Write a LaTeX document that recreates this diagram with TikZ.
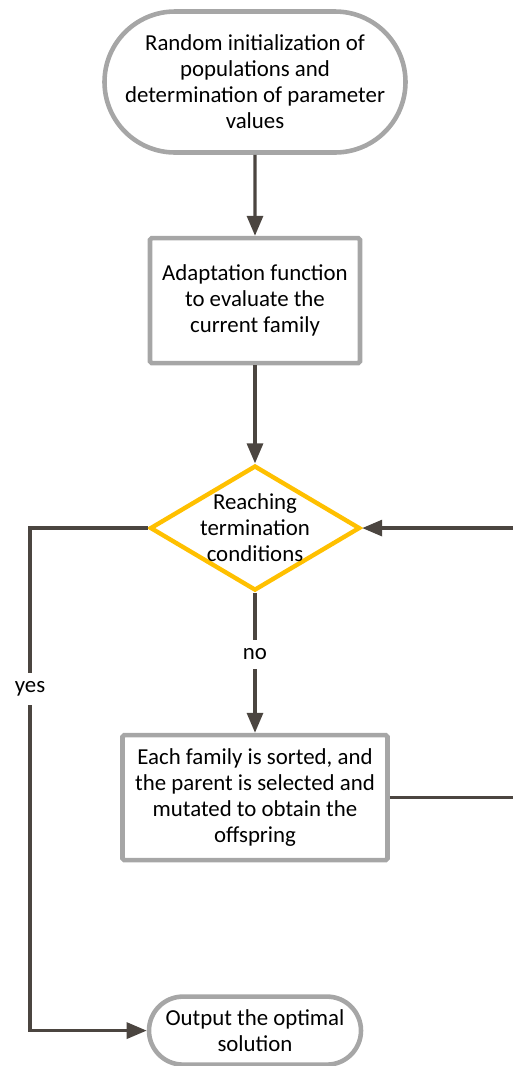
\documentclass[tikz,border=0pt]{standalone}
\usepackage{fontspec}
\setmainfont{Carlito}
\usetikzlibrary{arrows.meta,positioning,shapes.geometric,shapes.misc}
\definecolor{linegray}{HTML}{4B4540}
\definecolor{boxgray}{HTML}{A6A6A6}
\definecolor{condyellow}{HTML}{FFC000}
\tikzset{
    %Define standard arrow tip
    >={Triangle[length=4mm,width=3.2mm]},
    %Define style for start and end nodes
    termnode/.style={
             rounded rectangle,
             draw=boxgray, line width=2.6pt,
             align=center, inner sep=0pt,
             font=\fontsize{13}{14.8}\selectfont},
    %Define style for boxes
    procnode/.style={
             rectangle, rounded corners=1pt,
             draw=boxgray, line width=2.6pt,
             align=center, inner sep=0pt,
             font=\fontsize{13}{14.8}\selectfont},
    %Define style for the decision
    decnode/.style={
             diamond,
             draw=condyellow, line width=2.5pt,
             inner sep=0pt},
    % Define arrow style
    flowarrow/.style={
            ->,
            draw=linegray, line width=1.8pt,
            font=\fontsize{13}{14.8}\selectfont},
    flowlabel/.style={
            fill=white, inner sep=5pt, text=black}
}
\begin{document}
\begin{tikzpicture}
 \useasboundingbox (0,0) rectangle (10.26,-21.32);
 \node[termnode, minimum width=6.02cm, minimum height=2.82cm] (init) at (5.1,-1.64)
      {Random initialization of\\populations and\\determination of parameter\\values};
 \node[procnode, minimum width=4.2cm, minimum height=2.5cm, below=1.62cm of init] (fitness)
      {Adaptation function\\to evaluate the\\current family};
 \node[decnode, minimum width=4.2cm, minimum height=2.5cm, below=1.96cm of fitness] (cond) {};
 \node[align=center, font=\fontsize{13}{14.8}\selectfont] (condtext) at (cond)
      {Reaching\\termination\\conditions};
 \node[procnode, minimum width=5.3cm, minimum height=2.5cm, below=2.8cm of cond] (mutate)
      {Each family is sorted, and\\the parent is selected and\\mutated to obtain the\\offspring};
 \node[termnode, minimum width=4.24cm, minimum height=1.36cm, below=2.64cm of mutate] (output)
      {Output the optimal\\solution};
 \coordinate (yesx) at (0.6,0);
 \coordinate (backx) at (10.45,0);
 \path (init) edge[flowarrow] (fitness)
       (fitness) edge[flowarrow] (cond)
       (cond) edge[flowarrow] node[flowlabel, pos=0.44] {no} (mutate);
 \draw[flowarrow] (cond.west) -- (cond.west -| yesx)
       -- node[flowlabel, pos=0.32] {yes} (output.west -| yesx) -- (output.west);
 \draw[flowarrow] (mutate.east) -- (mutate.east -| backx) -- (cond.east -| backx) -- (cond.east);
\end{tikzpicture}
\end{document}
